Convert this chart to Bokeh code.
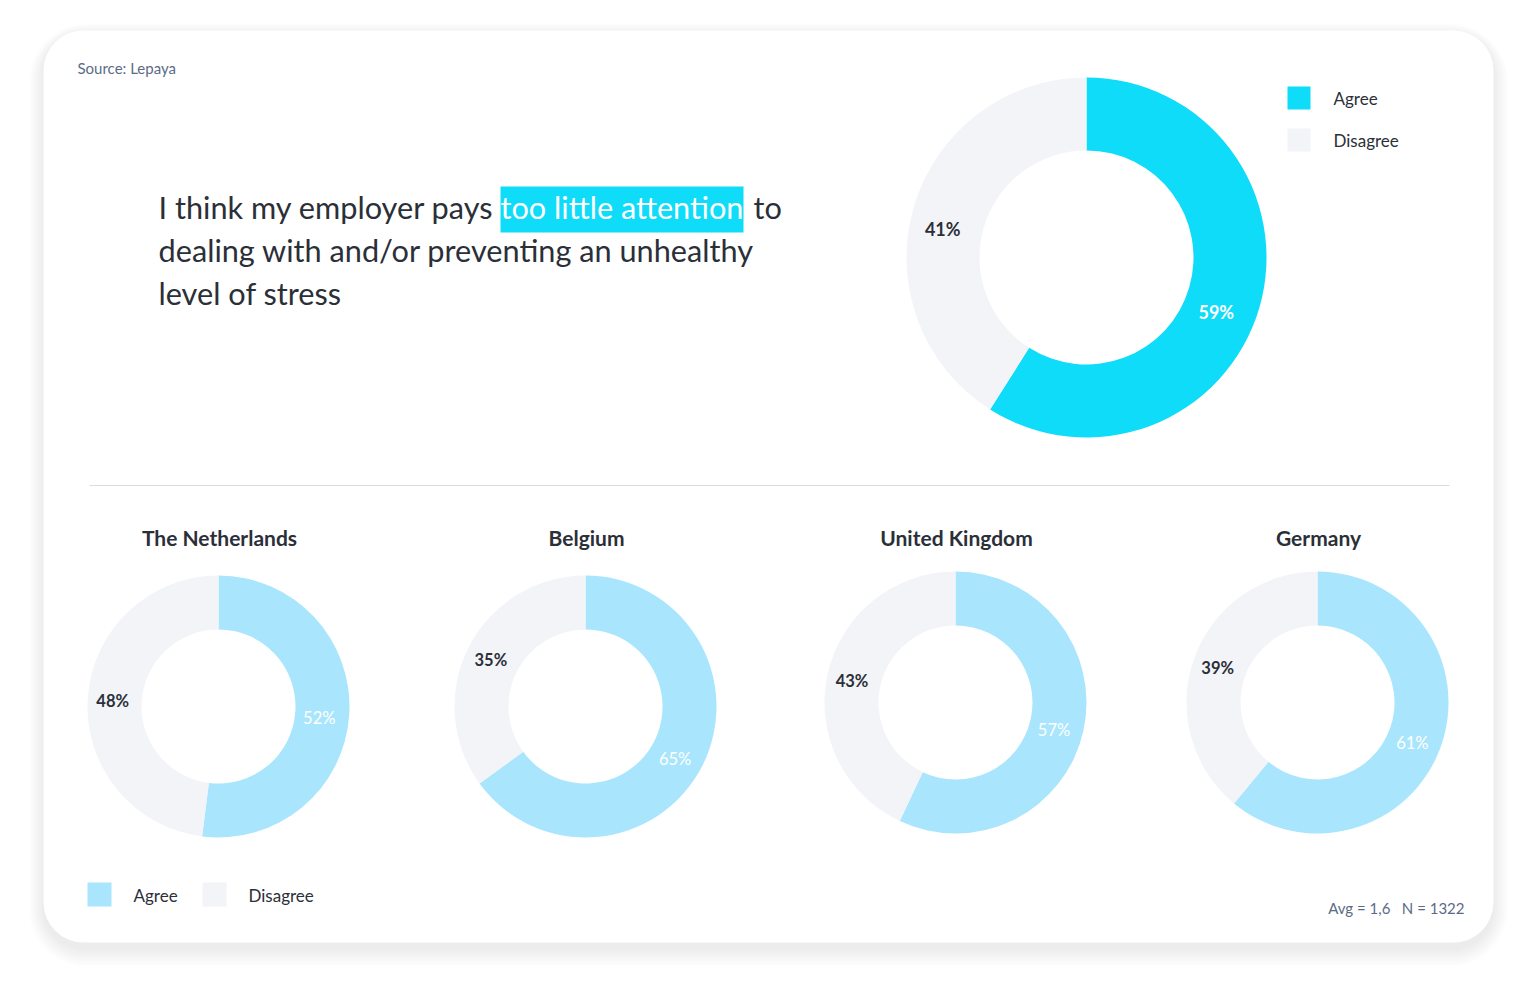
import math
from bokeh.plotting import figure
from bokeh.models import Range1d, Label, BoxAnnotation, ColumnDataSource
from bokeh.core.properties import value
from bokeh.embed import file_html
from bokeh.resources import INLINE

# ---------------- data ----------------
series = ["Agree", "Disagree"]
overall_values = [59, 41]
countries = ["The Netherlands", "Belgium", "United Kingdom", "Germany"]
country_agree = [52, 65, 57, 61]
country_disagree = [48, 35, 43, 39]
title_lines = ["I think my employer pays", "too little attention", "to",
               "dealing with and/or preventing an unhealthy", "level of stress"]
source_text = "Source: Lepaya"
footnote = "Avg = 1,6\u00a0\u00a0\u00a0N = 1322"

# ---------------- style ----------------
FONT = "Lato"
DARK = "#2B2F38"
MUTED = "#5B6B86"
CYAN = "#0EDCF8"
LIGHT_BLUE = "#A9E6FD"
PALE = "#F3F4F8"

W, H = 1520, 965
p = figure(width=W, height=H, x_range=Range1d(0, W), y_range=Range1d(-H, 0),
           output_backend="svg", toolbar_location=None, min_border=0,
           x_axis_type=None, y_axis_type=None)
p.grid.visible = False
p.outline_line_color = None
p.background_fill_color = "white"
p.border_fill_color = "white"

# card with soft shadow
CL, CR, CT, CB, RAD = 43, 1493, 30, 942, 40
for k in range(1, 20):
    p.add_layout(BoxAnnotation(left=CL - k * 0.8, right=CR + k * 0.8, top=-(CT - k * 0.6 + 4),
                               bottom=-(CB + k + 6), border_radius=RAD + k,
                               fill_color="black", fill_alpha=0.0055,
                               line_color=None, level="underlay"))
p.add_layout(BoxAnnotation(left=CL, right=CR, top=-CT, bottom=-CB, border_radius=RAD,
                           fill_color="white", fill_alpha=1, line_color=None, level="underlay"))


def lab(x, y, text, size, color=DARK, style="normal", align="left", baseline="middle"):
    p.add_layout(Label(x=x, y=-y, text=text, text_font=FONT, text_font_size=f"{size}px",
                       text_color=color, text_font_style=style, text_align=align,
                       text_baseline=baseline))


def donut(cx, cy, r_in, r_out, vals, colors, label_colors, label_styles, size, dxs, dys):
    total = float(sum(vals))
    cum = 0.0
    d = dict(x=[], y=[], s=[], e=[], c=[])
    t = dict(x=[], y=[], t=[], c=[], st=[], dx=[], dy=[])
    for v, col, lc, ls, dx, dy in zip(vals, colors, label_colors, label_styles, dxs, dys):
        a0, a1 = cum / total, (cum + v) / total
        cum += v
        d["x"].append(cx); d["y"].append(-cy)
        d["s"].append(math.pi / 2 - 2 * math.pi * a1)
        d["e"].append(math.pi / 2 - 2 * math.pi * a0)
        d["c"].append(col)
        mid = math.pi / 2 - 2 * math.pi * (a0 + a1) / 2
        rm = (r_in + r_out) / 2
        t["x"].append(cx + rm * math.cos(mid)); t["y"].append(-cy + rm * math.sin(mid))
        t["t"].append(f"{v}%"); t["c"].append(lc); t["st"].append(ls)
        t["dx"].append(dx); t["dy"].append(dy)
    p.annular_wedge(x="x", y="y", inner_radius=r_in, outer_radius=r_out, start_angle="s",
                    end_angle="e", color="c", line_color=None, source=ColumnDataSource(d))
    p.text(x="x", y="y", text="t", text_color="c", text_font_style="st",
           text_font=value(FONT), text_font_size=f"{size}px", text_align="center",
           text_baseline="middle", x_offset="dx", y_offset="dy", source=ColumnDataSource(t))


# source
lab(77, 67, source_text, 15, MUTED)

# title with highlight
p.quad(left=500, right=743, top=-186, bottom=-232, color=CYAN, line_color=None)
lab(158, 207, title_lines[0], 30.7)
lab(500, 207, title_lines[1], 30.7, "white")
lab(753, 207, title_lines[2], 30.7)
lab(158, 250, title_lines[3], 30.7)
lab(158, 293, title_lines[4], 30.7)

# main donut
donut(1086, 257, 107, 180, overall_values, [CYAN, PALE], ["white", DARK], ["bold", "bold"], 18,
      [-8, -6], [14, 12])

# top legend
for i, (name, col) in enumerate(zip(series, [CYAN, PALE])):
    y = 98 + 42 * i
    p.quad(left=1287, right=1310, top=-(y - 12), bottom=-(y + 11), color=col, line_color=None)
    lab(1333, y, name, 17)

# divider
p.segment(x0=89, x1=1449, y0=-485, y1=-485, line_color="#D9DCE1", line_width=1)

# country donuts
cxs = [218, 585, 955, 1317]
cys = [706, 706, 702, 702]
for name, a, dval, cx, cy in zip(countries, country_agree, country_disagree, cxs, cys):
    lab(cx + 1, 537, name, 21, style="bold", align="center")
    donut(cx, cy, 77, 131, [a, dval], [LIGHT_BLUE, PALE], ["white", DARK], ["normal", "bold"], 16.5,
          [-3, -2], [5, 1])

# bottom legend
for name, col, x in zip(series, [LIGHT_BLUE, PALE], [87, 202]):
    p.quad(left=x, right=x + 24, top=-882, bottom=-906, color=col, line_color=None)
    lab(x + 46, 895, name, 17)

# footnote
lab(1464, 907, footnote, 15, MUTED, align="right")

open("out.html", "w").write(file_html(p, INLINE))
